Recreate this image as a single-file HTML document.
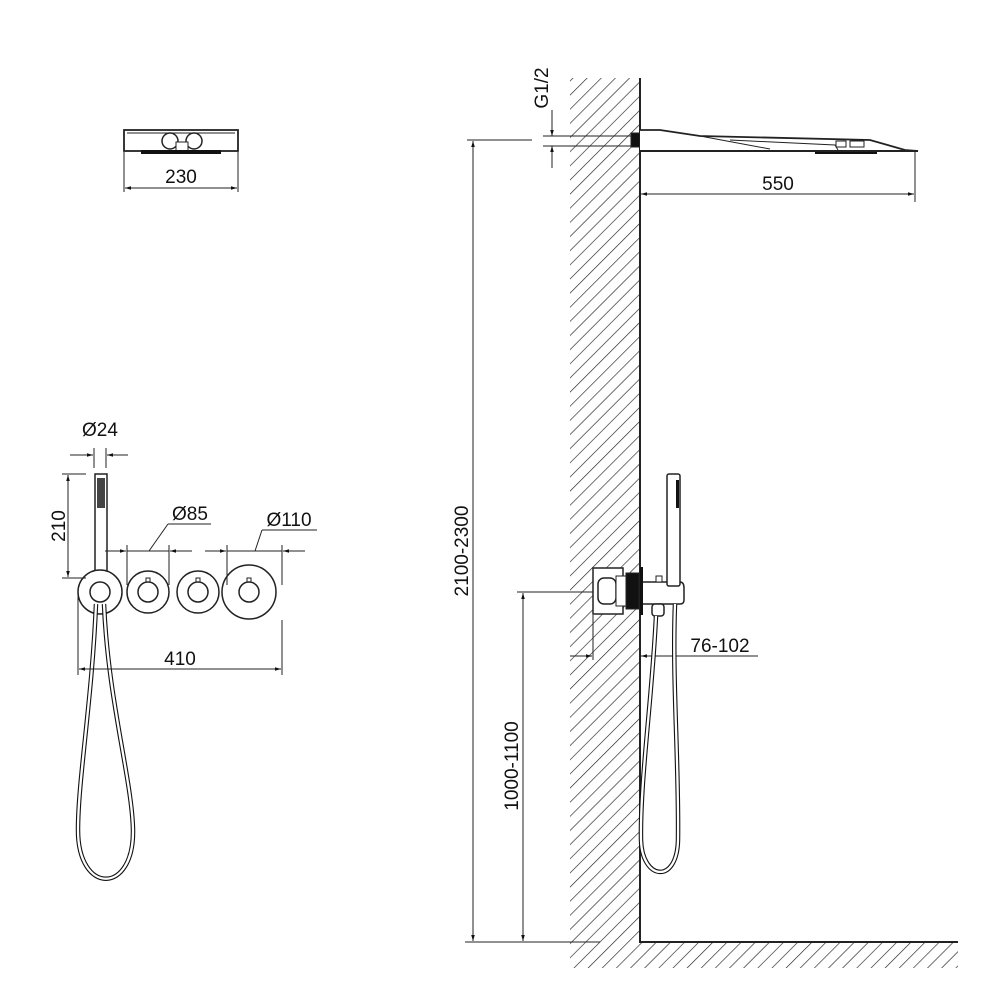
<!DOCTYPE html>
<html><head><meta charset="utf-8"><style>
html,body{margin:0;padding:0;background:#fff;width:1000px;height:1000px;overflow:hidden}
text{font-family:"Liberation Sans",sans-serif;font-size:19px;fill:#111}
</style></head><body>
<svg width="1000" height="1000" viewBox="0 0 1000 1000" xmlns="http://www.w3.org/2000/svg">
<defs>
<pattern id="h" patternUnits="userSpaceOnUse" width="10" height="10" patternTransform="rotate(45)">
<line x1="0" y1="0" x2="0" y2="10" stroke="#222" stroke-width="1.3"/>
</pattern>
<marker id="a" viewBox="0 0 10 10" refX="10" refY="5" markerWidth="10" markerHeight="6" orient="auto-start-reverse" markerUnits="userSpaceOnUse"><path d="M0,2 L10,5 L0,8z" fill="#111"/></marker>
</defs>
<g stroke="#222" fill="none" stroke-width="1">
<rect x="570" y="78" width="70" height="864" fill="url(#h)" stroke="none"/>
<rect x="570" y="942" width="388" height="26" fill="url(#h)" stroke="none"/>
<line x1="640" y1="78" x2="640" y2="943" stroke-width="2"/>
<line x1="640" y1="942" x2="958" y2="942" stroke-width="2"/>

<rect x="631" y="133" width="9" height="14" fill="#111"/>
<path d="M640,130 L660,130 L700,136 L870,140 L905,150 L918,151 L640,151" fill="#fff" stroke-width="1.8"/>
<path d="M700,136 Q760,147 770,149" />
<path d="M730,140 L835,145 L838,150" />
<rect x="836" y="141" width="10" height="6" fill="#fff"/>
<rect x="850" y="141" width="14" height="6" fill="#fff"/>
<rect x="815" y="150" width="62" height="4" fill="#111" stroke="none"/>
<line x1="640" y1="151" x2="918" y2="151" stroke-width="2"/>
<line x1="915" y1="152" x2="915" y2="202"/>
<line x1="641" y1="194" x2="914" y2="194" marker-start="url(#a)" marker-end="url(#a)"/>
<line x1="543" y1="136" x2="632" y2="136"/>
<line x1="543" y1="146" x2="632" y2="146"/>
<line x1="552" y1="110" x2="552" y2="136" marker-end="url(#a)"/>
<line x1="552" y1="168" x2="552" y2="146" marker-end="url(#a)"/>
<line x1="467" y1="140" x2="532" y2="140"/>
<line x1="473" y1="141" x2="473" y2="941" marker-start="url(#a)" marker-end="url(#a)"/>
<line x1="517" y1="592" x2="600" y2="592"/>
<line x1="523" y1="593" x2="523" y2="941" marker-start="url(#a)" marker-end="url(#a)"/>
<line x1="465" y1="942" x2="600" y2="942"/>

<rect x="593" y="568" width="30" height="46" fill="#fff" stroke-width="1.5"/>
<rect x="598" y="578" width="18" height="26" rx="6" fill="#fff" stroke-width="1.5"/>
<rect x="616" y="576" width="10" height="30" fill="#fff"/>
<rect x="626" y="573" width="13" height="36" fill="#111"/>
<rect x="640" y="567" width="3" height="48" fill="#111" stroke="none"/>
<path d="M643,582 L680,582 Q684,582 684,588 L684,600 Q684,604 680,604 L643,604" fill="#fff" stroke-width="1.5"/>
<rect x="656" y="576" width="6" height="6" fill="#fff"/>
<rect x="667" y="474" width="13" height="112" rx="2" fill="#fff" stroke-width="1.5"/>
<rect x="676" y="480" width="3" height="28" fill="#111" stroke="none"/>
<rect x="652" y="604" width="12" height="12" rx="3" fill="#fff" stroke-width="1.5"/>
<line x1="593" y1="615" x2="593" y2="660"/>
<line x1="570" y1="656" x2="592" y2="656" marker-end="url(#a)"/>
<line x1="660" y1="656" x2="641" y2="656" marker-end="url(#a)"/>
<line x1="660" y1="656" x2="758" y2="656"/>
<path d="M656,616 C652,700 640,780 641,840 C642,880 677,885 678,840 C679,760 672,680 675,604" stroke="#111" stroke-width="4.5"/>
<path d="M656,616 C652,700 640,780 641,840 C642,880 677,885 678,840 C679,760 672,680 675,604" stroke="#fff" stroke-width="2.3"/>

<rect x="124" y="130" width="114" height="21" fill="#fff" stroke-width="1.8"/>
<line x1="127" y1="133" x2="235" y2="133"/>
<circle cx="170" cy="141" r="8" fill="#fff" stroke-width="1.5"/>
<circle cx="194" cy="141" r="8" fill="#fff" stroke-width="1.5"/>
<rect x="176" y="142" width="12" height="9" fill="#fff"/>
<rect x="141" y="150" width="80" height="4" fill="#111" stroke="none"/>
<line x1="124" y1="152" x2="124" y2="192"/>
<line x1="238" y1="152" x2="238" y2="192"/>
<line x1="125" y1="188" x2="237" y2="188" marker-start="url(#a)" marker-end="url(#a)"/>

<rect x="95" y="474" width="12" height="112" fill="#fff" stroke-width="1.5"/>
<rect x="97" y="478" width="8" height="30" fill="#444" stroke="none"/>
<circle cx="100" cy="592" r="22" fill="#fff" stroke-width="1.5"/>
<circle cx="100" cy="592" r="10" fill="#fff" stroke-width="1.5"/>
<circle cx="148" cy="592" r="21" stroke-width="1.5"/>
<circle cx="148" cy="592" r="10" stroke-width="1.5"/>
<circle cx="198" cy="592" r="21" stroke-width="1.5"/>
<circle cx="198" cy="592" r="10" stroke-width="1.5"/>
<circle cx="249" cy="592" r="27" stroke-width="1.5"/>
<circle cx="249" cy="592" r="10" stroke-width="1.5"/>
<rect x="146" y="578" width="4" height="4"/><rect x="196" y="578" width="4" height="4"/><rect x="247" y="578" width="4" height="4"/>
<path d="M96,604 C92,700 78,780 78,830 C78,895 134,895 133,830 C132,780 108,700 104,604" stroke="#111" stroke-width="4.5"/>
<path d="M96,604 C92,700 78,780 78,830 C78,895 134,895 133,830 C132,780 108,700 104,604" stroke="#fff" stroke-width="2.3"/>
<line x1="94" y1="448" x2="94" y2="468"/><line x1="106" y1="448" x2="106" y2="468"/>
<line x1="70" y1="455" x2="93" y2="455" marker-end="url(#a)"/>
<line x1="128" y1="455" x2="107" y2="455" marker-end="url(#a)"/>
<line x1="62" y1="474" x2="86" y2="474"/>
<line x1="62" y1="578" x2="86" y2="578"/>
<line x1="68" y1="475" x2="68" y2="577" marker-start="url(#a)" marker-end="url(#a)"/>
<line x1="127" y1="545" x2="127" y2="585"/><line x1="169" y1="545" x2="169" y2="585"/>
<line x1="105" y1="551" x2="126" y2="551" marker-end="url(#a)"/>
<line x1="192" y1="551" x2="170" y2="551" marker-end="url(#a)"/>
<line x1="127" y1="551" x2="169" y2="551"/>
<line x1="149" y1="551" x2="168" y2="524"/><line x1="168" y1="524" x2="211" y2="524"/>
<line x1="227" y1="545" x2="227" y2="585"/><line x1="282" y1="545" x2="282" y2="585"/>
<line x1="205" y1="551" x2="226" y2="551" marker-end="url(#a)"/>
<line x1="305" y1="551" x2="283" y2="551" marker-end="url(#a)"/>
<line x1="227" y1="551" x2="282" y2="551"/>
<line x1="255" y1="551" x2="262" y2="530"/><line x1="262" y1="530" x2="317" y2="530"/>
<line x1="78" y1="596" x2="78" y2="675"/><line x1="282" y1="620" x2="282" y2="675"/>
<line x1="79" y1="669" x2="281" y2="669" marker-start="url(#a)" marker-end="url(#a)"/>
</g>
<text x="181" y="183" text-anchor="middle">230</text>
<text x="778" y="190" text-anchor="middle">550</text>
<text x="100" y="436" text-anchor="middle">Ø24</text>
<text x="190" y="520" text-anchor="middle">Ø85</text>
<text x="289" y="526" text-anchor="middle">Ø110</text>
<text x="180" y="665" text-anchor="middle">410</text>
<text x="720" y="652" text-anchor="middle">76-102</text>
<text transform="translate(65,526) rotate(-90)" text-anchor="middle">210</text>
<text transform="translate(548,88) rotate(-90)" text-anchor="middle">G1/2</text>
<text transform="translate(468,551) rotate(-90)" text-anchor="middle">2100-2300</text>
<text transform="translate(518,766) rotate(-90)" text-anchor="middle">1000-1100</text>
</svg>
</body></html>
